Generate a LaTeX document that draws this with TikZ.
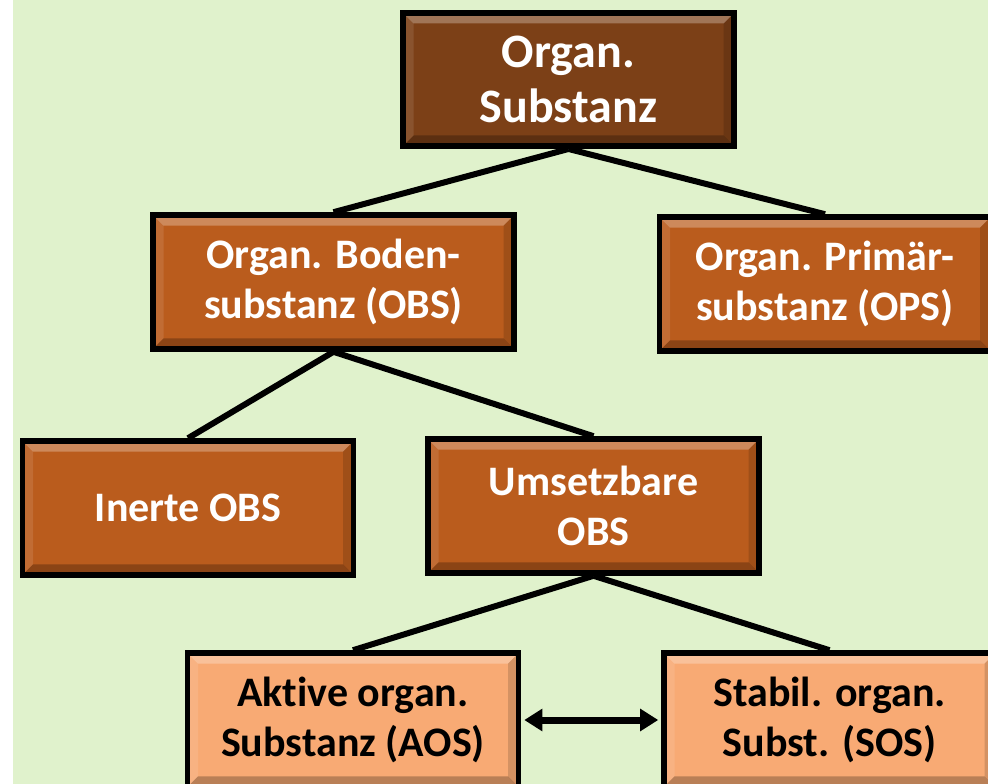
\documentclass[tikz,border=0pt]{standalone}
\usepackage{fontspec}
\setmainfont{Carlito}[Ligatures=NoCommon]
\usetikzlibrary{arrows.meta, positioning, calc}
\definecolor{bgreen}{RGB}{224,242,204}
\definecolor{humus}{RGB}{124,64,23}
\definecolor{rust}{RGB}{186,92,29}
\definecolor{apricot}{RGB}{248,170,116}

\begin{document}
\begin{tikzpicture}[
    x=0.75pt, y=-0.75pt,
    >={Triangle[length=13.5pt, width=16pt]},
    base/.style={draw=black, line width=4.2pt, align=center, inner sep=0pt,
      minimum width=248.5pt, minimum height=100.5pt, text=white,
      font=\bfseries\fontsize{31.5}{38}\selectfont,
      path picture={
        \path (path picture bounding box.north west) coordinate (nw)
              (path picture bounding box.north east) coordinate (ne)
              (path picture bounding box.south west) coordinate (sw)
              (path picture bounding box.south east) coordinate (se);
        \fill[white, opacity=0.28] (nw) -- (ne) -- ([shift={(-8pt,-8pt)}]ne) -- ([shift={(8pt,-8pt)}]nw) -- cycle;
        \fill[white, opacity=0.10] (nw) -- (sw) -- ([shift={(8pt,8pt)}]sw) -- ([shift={(8pt,-8pt)}]nw) -- cycle;
        \fill[black, opacity=0.25] (sw) -- (se) -- ([shift={(-8pt,8pt)}]se) -- ([shift={(8pt,8pt)}]sw) -- cycle;
        \fill[black, opacity=0.14] (ne) -- (se) -- ([shift={(-8pt,8pt)}]se) -- ([shift={(-8pt,-8pt)}]ne) -- cycle;
      }},
    root/.style={base, fill=humus, minimum height=100pt, font=\bfseries\fontsize{36}{41}\selectfont},
    branch/.style={base, fill=rust},
    leaf/.style={base, fill=apricot, text=black},
    link/.style={line width=4.5pt, black},
    arrow/.style={<->, line width=5.25pt, black, shorten <=2.1pt, shorten >=2.1pt}
  ]
    % background
    \clip (0,0) rectangle (988,784);
    \fill[white] (0,0) rectangle (13,784);
    \fill[bgreen] (13,0) rectangle (988,784);
    % boxes
    \node[root] (organ) at (568.5,79.5) {Organ.\\Substanz};
    \node[branch, minimum width=271pt] (obs) at (333.5,282) {Organ. Boden-\\substanz (OBS)};
    \node[branch] (ops) at (825,284) {Organ. Primär-\\substanz (OPS)};
    \node[branch] (inert) at (188,508) {Inerte OBS};
    \node[branch] (umsetz) at (593.5,506) {Umsetzbare\\OBS};
    \node[leaf] (aos) at (353,720) {Aktive organ.\\Substanz (AOS)};
    \node[leaf] (sos) at (829.5,720) {Stabil. organ.\\Subst. (SOS)};
    % connectors
    \draw[link] (organ.south) -- (obs.north);
    \draw[link] (organ.south) -- (ops.north);
    \draw[link] (obs.south) -- (inert.north);
    \draw[link] (obs.south) -- (umsetz.north);
    \draw[link] (umsetz.south) -- (aos.north);
    \draw[link] (umsetz.south) -- (sos.north);
    \draw[arrow] (aos.east) -- (sos.west);
  \end{tikzpicture}
\end{document}
